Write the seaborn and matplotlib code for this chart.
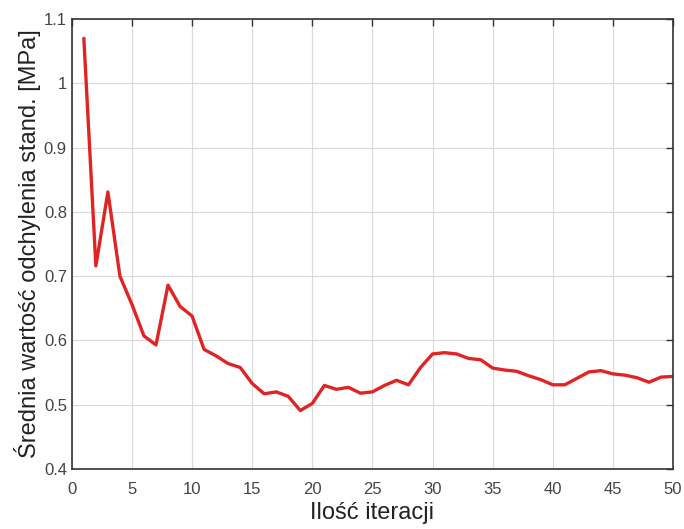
import pandas as pd
import matplotlib
matplotlib.use('Agg')
import matplotlib.pyplot as plt
import seaborn as sns

# Data
iterations = list(range(1, 51))
mean_std = [1.070, 0.716, 0.831, 0.700, 0.656, 0.607, 0.593, 0.686, 0.653, 0.638,
            0.586, 0.576, 0.564, 0.558, 0.533, 0.517, 0.520, 0.513, 0.491, 0.502,
            0.530, 0.524, 0.527, 0.518, 0.520, 0.530, 0.538, 0.531, 0.558, 0.579,
            0.581, 0.579, 0.572, 0.570, 0.557, 0.554, 0.552, 0.545, 0.539, 0.531,
            0.531, 0.541, 0.551, 0.553, 0.548, 0.546, 0.542, 0.535, 0.543, 0.544]
x_ticks = list(range(0, 51, 5))
y_ticks = [0.4, 0.5, 0.6, 0.7, 0.8, 0.9, 1.0, 1.1]
y_tick_labels = ['0.4', '0.5', '0.6', '0.7', '0.8', '0.9', '1', '1.1']

df = pd.DataFrame({'iter': iterations, 'val': mean_std})

sns.set_style('whitegrid')
plt.rcParams['font.family'] = ['Liberation Sans', 'DejaVu Sans']

fig = plt.figure(figsize=(6.84, 5.29), dpi=100)
ax = fig.add_axes([0.105, 0.1134, 0.879, 0.8506])

sns.lineplot(data=df, x='iter', y='val', color='#e02424', linewidth=2.4, ax=ax)

ax.set_xlim(0, 50)
ax.set_ylim(0.4, 1.1)
ax.set_xticks(x_ticks)
ax.set_yticks(y_ticks)
ax.set_yticklabels(y_tick_labels)
ax.grid(True, color='#d9d9d9', linewidth=0.8)
for s in ax.spines.values():
    s.set_visible(True)
    s.set_color('#333333')
    s.set_linewidth(1.2)
ax.tick_params(direction='in', length=5, width=1, colors='#333333',
               top=True, right=True, labelsize=12, labelcolor='#444444')
ax.tick_params(axis='x', pad=9)

ax.set_xlabel('Ilość iteracji', fontsize=17, color='#222222', labelpad=4)
ax.set_ylabel('Średnia wartość odchylenia stand. [MPa]', fontsize=17, color='#222222', labelpad=2)

fig.savefig('out.png', dpi=100)
